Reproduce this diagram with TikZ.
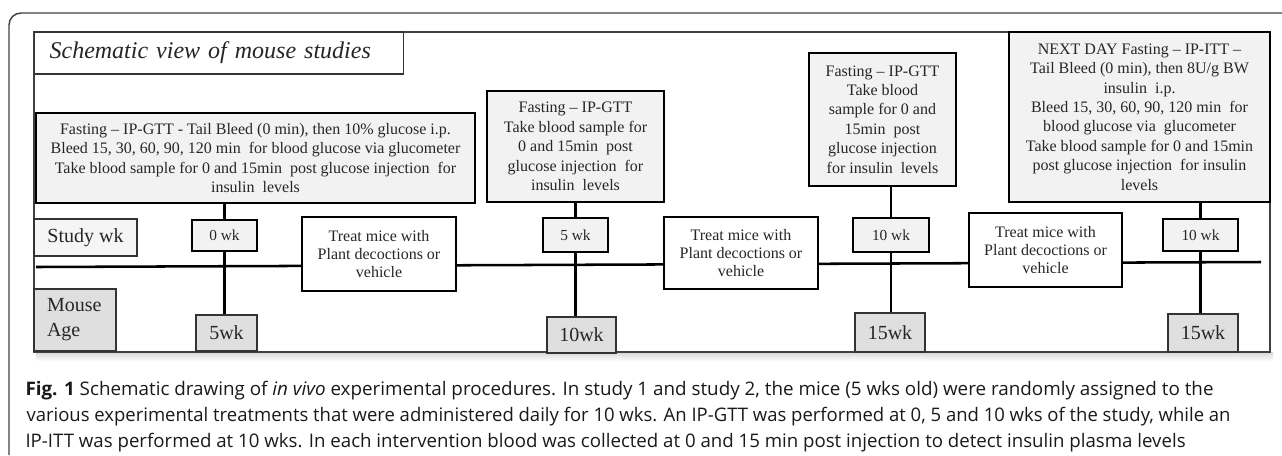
\documentclass[tikz,border=0pt]{standalone}
\usepackage{graphicx}
\usepackage{fontspec}
\setmainfont{Liberation Serif}
\newfontfamily\capfont{Open Sans}
\definecolor{boxgrey}{HTML}{F2F2F2}
\definecolor{labelgrey}{HTML}{F5F5F5}
\definecolor{agegrey}{HTML}{DFDFDF}
\definecolor{txtgrey}{HTML}{262626}
\tikzset{every picture/.style={line width=0.75pt}}
\tikzset{
  boxsize/.style 2 args={minimum width=#1*0.75pt, minimum height=#2*0.75pt},
  infobox/.style={draw=black, line width=1.9pt, fill=boxgrey, align=center, inner sep=0pt,
    text=txtgrey, font=\fontsize{12}{14.6}\selectfont},
  treatbox/.style={infobox, fill=white, font=\fontsize{12}{13.3}\selectfont},
  wkbox/.style={infobox, line width=2.1pt, font=\fontsize{11.5}{13}\selectfont},
  agebox/.style={draw=black!80, line width=1pt, fill=agegrey, inner sep=0pt, text=txtgrey,
    font=\fontsize{15}{18.75}\selectfont},
  rowlabel/.style={draw=black!80, line width=1.1pt, inner xsep=9.75pt, inner ysep=0pt, align=left,
    text=txtgrey, font=\fontsize{15}{18.75}\selectfont},
  titlebox/.style={draw=black!80, line width=0.9pt, fill=white, inner xsep=11.25pt, inner ysep=0pt,
    text width=254.25pt, align=left, text=txtgrey, font=\fontsize{18}{20}\selectfont\itshape},
  link/.style={line width=2.2pt},
  caption/.style={inner sep=0pt, text=black!90, font=\capfont\fontsize{14}{16}\selectfont},
}

\begin{document}
\begin{tikzpicture}[x=0.75pt,y=0.75pt,yscale=-1,xscale=1]
\useasboundingbox (0,0) rectangle (1282,455);

% Frame
\draw [color=black!75, line width=1.1pt, rounded corners=9pt] (9,455) -- (9,13) -- (1282,13) ;
\shade [top color=black!16, bottom color=white] (36,352) rectangle (1273,361) ;
\draw [color=black!75, line width=0.8pt] (34,32) rectangle (1270,352) ;

% Time line
\coordinate (tl0) at (36,267) ;
\coordinate (tl1) at (1261,262) ;
\draw [line width=1.9pt] (tl0) -- (tl1) ;

% Text Node
\node (title) [titlebox, boxsize={369}{42}, anchor=west] at (34,53) {Schematic view of mouse studies};
% Text Node
\node (box1) [infobox, boxsize={439}{90}] at (255.5,158) {Fasting -- IP-GTT - Tail Bleed (0 min), then 10\% glucose i.p.\\Bleed 15, 30, 60, 90, 120 min\ \ for blood glucose via glucometer\\Take blood sample for 0 and 15min\ \ post glucose injection\ \ for\\insulin\ \ levels};
% Text Node
\node (box2) [infobox, boxsize={177}{111}] at (575.5,146.5) {Fasting -- IP-GTT\\Take blood sample for\\0 and 15min\ \ post\\glucose injection\ \ for\\insulin\ \ levels};
% Text Node
\node (box3) [infobox, boxsize={147}{133}] at (882.5,119.5) {Fasting -- IP-GTT\\Take blood\\sample for 0 and\\15min\ \ post\\glucose injection\\for insulin\ \ levels};
% Text Node
\node (box4) [infobox, boxsize={261}{170}] at (1139.5,117) {NEXT DAY Fasting -- IP-ITT --\\Tail Bleed (0 min), then 8U/g BW\\insulin\ \ i.p.\\Bleed 15, 30, 60, 90, 120 min\ \ for\\blood glucose via\ \ glucometer\\Take blood sample for 0 and 15min\\post glucose injection\ \ for insulin\\levels};

% Text Node
\node (studywk) [rowlabel, fill=labelgrey, boxsize={103}{37}] at (85.5,237.5) {Study wk};
\node (mouseage) [rowlabel, fill=agegrey, text width=42pt, boxsize={82}{62}] at (75,320) {Mouse\\Age};

% Text Node
\node (wk0) [wkbox, boxsize={65}{31}] at (224.5,235.5) {0 wk};
\node (wk5) [wkbox, boxsize={65}{34}] at (575.5,235) {5 wk};
\node (wk10a) [wkbox, boxsize={76}{34}] at (891,235) {10 wk};
\node (wk10b) [wkbox, boxsize={75}{32}] at (1200.5,235) {10 wk};

% Text Node
\node (treat1) [treatbox, boxsize={154}{74}] at (379,254) {Treat mice with\\Plant decoctions or\\vehicle};
\node (treat2) [treatbox, boxsize={154}{72}] at (741,253) {Treat mice with\\Plant decoctions or\\vehicle};
\node (treat3) [treatbox, boxsize={153}{74}] at (1045.5,250) {Treat mice with\\Plant decoctions or\\vehicle};

% Text Node
\node (age5) [agebox, boxsize={61}{36}] at (226.5,333) {5wk};
\node (age10) [agebox, boxsize={69}{36}] at (581.5,335) {10wk};
\node (age15a) [agebox, boxsize={70}{39}] at (890,332.5) {15wk};
\node (age15b) [agebox, boxsize={70}{38}] at (1203,333) {15wk};

% Connection
\draw [link] (box1.south -| wk0) -- (wk0.north) ;
\draw [link] (wk0.south) -- (wk0.south |- age5.north) ;
% Connection
\draw [link] (box2.south -| wk5) -- (wk5.north) ;
\draw [link] (wk5.south) -- (wk5.south |- age10.north) ;
% Connection
\draw [link] (box3.south -| wk10a) -- (wk10a.north) ;
\draw [link] (wk10a.south) -- (wk10a.south |- age15a.north) ;
% Connection
\draw [link] (box4.south -| wk10b) -- (wk10b.north) ;
\draw [link] (wk10b.south) -- (wk10b.south |- age15b.north) ;

% Caption
\node (cap1) [caption, anchor=base west] at (25,395) {\resizebox{891pt}{\height}{\textbf{Fig. 1} Schematic drawing of \textit{in vivo} experimental procedures. In study 1 and study 2, the mice (5 wks old) were randomly assigned to the}};
\node (cap2) [caption, anchor=base west] at (26,421) {\resizebox{903pt}{\height}{various experimental treatments that were administered daily for 10 wks. An IP-GTT was performed at 0, 5 and 10 wks of the study, while an}};
\node (cap3) [caption, anchor=base west] at (25,447) {\resizebox{870pt}{\height}{IP-ITT was performed at 10 wks. In each intervention blood was collected at 0 and 15 min post injection to detect insulin plasma levels}};

\end{tikzpicture}
\end{document}
